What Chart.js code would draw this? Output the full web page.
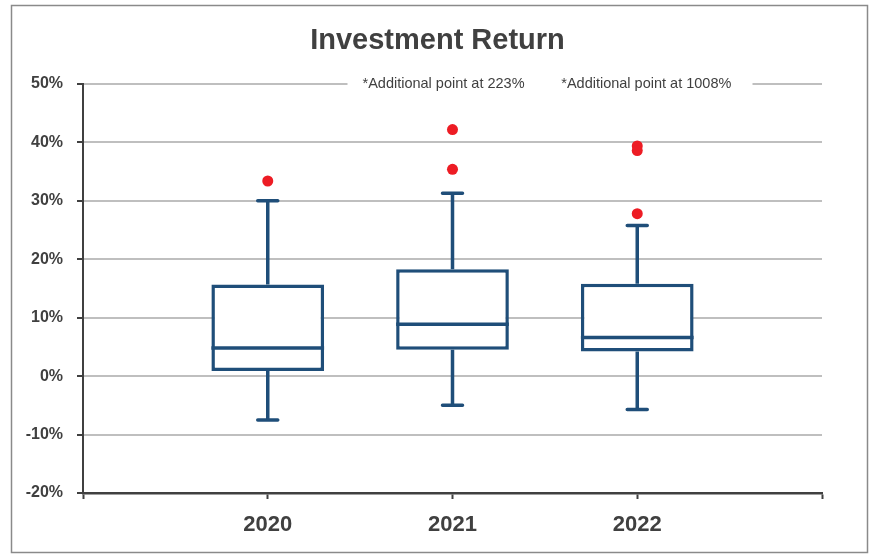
<!DOCTYPE html>
<html>
<head>
<meta charset="utf-8">
<script src="https://cdn.jsdelivr.net/npm/chart.js@4.4.1/dist/chart.umd.min.js"></script>
<style>
  body { margin: 0; background: #fff; }
  #wrap { width: 875px; height: 554px; position: relative; }
</style>
</head>
<body>
<div id="wrap"><canvas id="boxChart"></canvas></div>
<script>
// categories (empty slots at each end give the full-width gaps)
const years = ['', '2020', '2021', '2022', ''];
// box stats, in %
const q1Vals     = [null, 0.9, 4.5, 4.2, null];
const q3Vals     = [null, 15.7, 18.3, 15.8, null];
const medianVals = [null, 4.8, 8.9, 6.6, null];
const minVals    = [null, -7.5, -5.0, -5.7, null];
const maxVals    = [null, 30.0, 31.3, 25.8, null];
// outliers
const outlierYears = ['2020', '2021', '2021', '2022', '2022', '2022'];
const outlierVals  = [33.4, 42.2, 35.4, 39.4, 38.6, 27.8];
// notes on top gridline
const notes = ['*Additional point at 223%', '*Additional point at 1008%'];
const yTicks = [-20, -10, 0, 10, 20, 30, 40, 50];

const boxColor = '#1f4e79';
const textColor = '#404040';
const lw = 3.5;

// whiskers + median drawn with the chart's own scales
const boxExtras = {
  id: 'boxExtras',
  afterDatasetsDraw(chart) {
    const ctx = chart.ctx;
    const x = chart.scales.x, y = chart.scales.y;
    const meta = chart.getDatasetMeta(0);
    ctx.save();
    ctx.strokeStyle = boxColor;
    ctx.lineWidth = lw;
    for (let i = 0; i < years.length; i++) {
      if (q1Vals[i] == null) continue;
      const bar = meta.data[i];
      const cx = x.getPixelForValue(i);
      const half = bar.width / 2;
      // median
      ctx.lineCap = 'butt';
      ctx.beginPath();
      ctx.moveTo(cx - half, y.getPixelForValue(medianVals[i]));
      ctx.lineTo(cx + half, y.getPixelForValue(medianVals[i]));
      ctx.stroke();
      // whiskers
      ctx.beginPath();
      ctx.moveTo(cx, y.getPixelForValue(q3Vals[i]));
      ctx.lineTo(cx, y.getPixelForValue(maxVals[i]));
      ctx.moveTo(cx, y.getPixelForValue(q1Vals[i]));
      ctx.lineTo(cx, y.getPixelForValue(minVals[i]));
      ctx.stroke();
      ctx.lineCap = 'round';
      ctx.beginPath();
      ctx.moveTo(cx - 10, y.getPixelForValue(maxVals[i]));
      ctx.lineTo(cx + 10, y.getPixelForValue(maxVals[i]));
      ctx.moveTo(cx - 10, y.getPixelForValue(minVals[i]));
      ctx.lineTo(cx + 10, y.getPixelForValue(minVals[i]));
      ctx.stroke();
    }
    ctx.restore();
  }
};

// frame + notes
const frameAndNotes = {
  id: 'frameAndNotes',
  beforeDraw(chart) {
    const ctx = chart.ctx;
    ctx.save();
    ctx.fillStyle = '#fff';
    ctx.fillRect(0, 0, chart.width, chart.height);
    ctx.restore();
  },
  afterDraw(chart) {
    const ctx = chart.ctx;
    const x = chart.scales.x, y = chart.scales.y;
    const yTop = y.getPixelForValue(50);
    ctx.save();
    // white gap in the top gridline behind the notes
    ctx.fillStyle = '#fff';
    ctx.fillRect(x.getPixelForValue(2) - 105, yTop - 4, 405, 8);
    ctx.font = '14.5px "Liberation Sans", Arial, sans-serif';
    ctx.fillStyle = textColor;
    ctx.textBaseline = 'middle';
    ctx.textAlign = 'left';
    ctx.fillText(notes[0], x.getPixelForValue(2) - 90, yTop);
    ctx.fillText(notes[1], x.getPixelForValue(3) - 76, yTop);
    // outer frame
    ctx.strokeStyle = '#8a8a8a';
    ctx.lineWidth = 1.5;
    ctx.strokeRect(11.5, 5.5, 856, 547);
    ctx.restore();
  }
};

const ctx = document.getElementById('boxChart').getContext('2d');
new Chart(ctx, {
  data: {
    labels: years,
    datasets: [{
      type: 'bar',
      label: 'IQR',
      data: years.map((_, i) => q1Vals[i] == null ? null : [q1Vals[i], q3Vals[i]]),
      backgroundColor: '#ffffff',
      borderColor: boxColor,
      borderWidth: lw,
      borderSkipped: false,
      categoryPercentage: 1,
      barPercentage: 0.61,
      order: 2
    }, {
      type: 'line',
      label: 'Outliers',
      data: outlierYears.map((yr, i) => ({ x: yr, y: outlierVals[i] })),
      showLine: false,
      pointRadius: 5.5,
      pointBackgroundColor: '#ed1c24',
      pointBorderWidth: 0,
      order: 1
    }]
  },
  options: {
    responsive: true,
    maintainAspectRatio: false,
    animation: false,
    layout: { padding: { top: 0, right: 26, bottom: 0, left: 26 } },
    plugins: {
      legend: { display: false },
      tooltip: { enabled: false },
      title: {
        display: true,
        text: 'Investment Return',
        color: textColor,
        font: { family: '"Liberation Sans", Arial, sans-serif', size: 29, weight: 'bold' },
        padding: { top: 24, bottom: 25.2 }
      }
    },
    scales: {
      x: {
        type: 'category',
        offset: false,
        afterFit(scale) { scale.height = 61; },
        grid: {
          offset: false,
          drawOnChartArea: false,
          drawTicks: true,
          tickLength: 6,
          tickColor: textColor,
          tickWidth: 2
        },
        border: { color: textColor, width: 2.5 },
        ticks: {
          color: textColor,
          padding: 13,
          autoSkip: false,
          maxRotation: 0,
          font: { family: '"Liberation Sans", Arial, sans-serif', size: 22, weight: 'bold' }
        }
      },
      y: {
        min: -20,
        max: 50,
        afterFit(scale) { scale.width = 57; },
        afterBuildTicks(scale) { scale.ticks = yTicks.map(v => ({ value: v })); },
        grid: {
          color: '#bfbfbf',
          lineWidth: 2,
          tickLength: 6,
          tickColor: textColor,
          tickWidth: 2
        },
        border: { color: textColor, width: 2 },
        ticks: {
          color: textColor,
          padding: 14,
          callback: v => v + '%',
          font: { family: '"Liberation Sans", Arial, sans-serif', size: 16, weight: 'bold' }
        }
      },
      // empty right-hand spacer so the title stays centred on the page
      yRight: {
        position: 'right',
        display: true,
        afterFit(scale) { scale.width = 27; },
        grid: { drawOnChartArea: false, drawTicks: false },
        border: { display: false },
        ticks: { display: false }
      }
    }
  },
  plugins: [frameAndNotes, boxExtras]
});
</script>
</body>
</html>
